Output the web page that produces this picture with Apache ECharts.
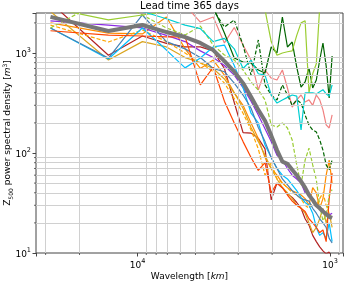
<!DOCTYPE html>
<html><head><meta charset="utf-8">
<script src="https://cdn.jsdelivr.net/npm/echarts@6/dist/echarts.min.js"></script>
<style>html,body{margin:0;padding:0;background:#fff}#c{width:346px;height:281px}</style>
</head><body><div id="c"></div>
<script>
// wavelength [km] of zonal wavenumbers 1..29
const wavelength = [28305,14153,9435,7076,5661,4718,4044,3538,3145,2831,2573,2359,2177,2022,1887,1769,1665,1573,1490,1415,1348,1287,1231,1179,1132,1089,1048,1011,976];

const meanSpectrum   = [2300,1660,1905,1620,1445,1260,1070,830,650,500,365,270,210,150,107,82,78,68,60,52,45,38,34,30,28,26,24.5,23,22.4];
const firebrickRun   = [3200,950,1480,1250,1150,1150,1050,700,320,160,158,140,110,34,50,45,39,36,32,28,22,19,15,13,11.5,10.5,9.8,10.2,8.5];
const darkorangeRun  = [2000,1580,1550,2290,1100,700,850,600,400,300,200,140,90,70,60,50,45,42,40,38,35,30,45,40,28,35,60,85,50];
const goldenrodRun   = [2600,850,1300,1150,900,800,700,550,400,280,180,130,95,70,55,45,40,35,30,28,25,20,16,18,22,28,20,25,18];
const orangeDashRun  = [1900,1290,1700,1300,1000,800,650,500,350,250,170,110,60,80,55,50,45,40,38,35,30,28,32,30,35,40,30,25,22];
const violetRun      = [2100,1900,1780,1500,1300,1050,900,750,600,450,330,240,175,130,95,85,70,60,55,50,40,38,35,30,28,27,25,24,25];
const skyblueRun     = [1780,870,1780,1070,710,890,1150,1200,750,450,250,200,120,90,70,60,55,48,42,36,32,30,25,18,15,16,14,20,13];
const steelblueRun   = [1780,890,2400,1300,1100,900,700,650,500,380,280,180,130,90,70,55,48,42,38,35,34,33,28,25,22,20,18,14,12.6];
const orangeredRun   = [1670,1510,1480,1450,1450,480,720,330,200,130,90,67,80,40,50,45,38,33,30,28,26,22,20,18,16,17,13,35,63];
const lightcoralRun  = [3400,3300,3200,3100,3000,2040,2290,1260,1800,1200,850,427,676,562,537,676,447,288,340,380,324,340,300,380,340,270,191,178,240];
const darkgreenRun   = [3800,3700,3600,3500,3400,3200,2900,1585,891,813,794,676,631,1148,1000,2291,1148,1288,724,457,513,708,447,537,851,1259,741,355,933];
const darkgreenDash  = [3800,3700,3600,3500,3300,3100,2700,1820,2138,1200,600,1350,480,380,339,480,380,300,339,316,240,190,170,162,135,107,76,68,85];
const yellowgreenRun = [2830,2140,2400,2600,2700,2800,2900,3000,3100,3000,2900,2800,2700,1300,950,1000,1030,1050,1500,2000,2100,400,620,780,2900,3300,3000,3300,3400];
const yellowgreenDash= [1780,3600,2400,1780,1514,1862,1200,955,851,676,513,427,339,191,182,200,178,135,76,48,85,112,76,54,30,21,24,38,43];
const turquoiseRun   = [3000,3000,2600,2200,1900,1750,1300,1400,1100,700,850,620,600,380,316,339,360,380,370,170,400,400,400,390,410,430,390,370,480];

const xGridValues = [30000,20000,9000,8000,7000,6000,5000,4000,3000,2000,900];
const yGridValues = [20,30,40,50,60,70,80,90,200,300,400,500,600,700,800,900,2000];

const FONT = 'DejaVu Sans';
function pairs(arr){ return wavelength.map((w,i)=>[w, arr[i]]); }
function powLabel(v){
  const e = Math.log10(v);
  if (Math.abs(e - Math.round(e)) > 1e-6) return '';
  return '{n|10}{s|' + Math.round(e) + '}';
}
const tickRich = { n:{fontSize:9, fontFamily:FONT, color:'#000', lineHeight:12, verticalAlign:'bottom'}, s:{fontSize:6.5, fontFamily:FONT, color:'#000', lineHeight:12, verticalAlign:'top'} };

function member(name, arr, color, dashed){
  return { name, type:'line', data:pairs(arr), symbol:'none', silent:true, z:3,
    lineStyle:{color, width:1.2, type: dashed ? [4,2] : 'solid'}, animation:false };
}

const series = [
  { name:'grid', type:'line', data:[], silent:true, z:1, animation:false,
    markLine:{ silent:true, symbol:'none', animation:false, label:{show:false},
      lineStyle:{color:'#d0d0d0', width:1, type:'solid'},
      data: xGridValues.map(v=>({xAxis:v})).concat(yGridValues.map(v=>({yAxis:v}))) } },
  member('firebrick', firebrickRun, '#b22222'),
  member('darkorange', darkorangeRun, '#ff8c00'),
  member('goldenrod', goldenrodRun, '#daa520'),
  member('orange dashed', orangeDashRun, '#ffa500', true),
  member('blueviolet', violetRun, '#8a2be2'),
  member('deepskyblue', skyblueRun, '#00bfff'),
  member('steelblue', steelblueRun, '#4682b4'),
  member('orangered', orangeredRun, '#ff4500'),
  member('lightcoral', lightcoralRun, '#f08080'),
  member('darkgreen', darkgreenRun, '#006400'),
  member('darkgreen dashed', darkgreenDash, '#006400', true),
  member('yellowgreen', yellowgreenRun, '#9acd32'),
  member('yellowgreen dashed', yellowgreenDash, '#9acd32', true),
  member('darkturquoise', turquoiseRun, '#00ced1'),
  { name:'mean', type:'line', data:pairs(meanSpectrum), symbol:'none', silent:true, z:5,
    lineStyle:{color:'#777777', width:4}, animation:false }
];

const chart = echarts.init(document.getElementById('c'), null, {renderer:'canvas'});
chart.setOption({
  animation:false,
  backgroundColor:'#fff',
  title:{ text:'Lead time 365 days', left:189.5, top:0, padding:0, textAlign:'center',
    textStyle:{fontSize:10, fontWeight:'normal', color:'#000', fontFamily:FONT, lineHeight:12} },
  grid:{ left:36, right:3, top:13, bottom:28, containLabel:false, outerBoundsMode:'none',
    show:true, borderColor:'#444', borderWidth:1, backgroundColor:'transparent' },
  xAxis:{ type:'log', logBase:10, min:857, max:33650, inverse:true,
    name:'{a|Wavelength [}{c|km}{a|]}', nameLocation:'middle', nameGap:19, nameMoveOverlap:false,
    nameTextStyle:{ rich:{ a:{fontSize:9, fontFamily:FONT, color:'#000'}, c:{fontSize:9, fontFamily:FONT, fontStyle:'italic', color:'#000'} } },
    axisLine:{show:false}, splitLine:{show:false},
    axisTick:{show:true, length:3.5, inside:false, lineStyle:{color:'#444', width:1}},
    axisLabel:{ margin:5, formatter:powLabel, rich:tickRich } },
  yAxis:{ type:'log', logBase:10, min:10, max:2512,
    name:'{a|Z}{b|500}{a| power spectral density [}{c|m}{d|3}{a|]}', nameLocation:'middle', nameGap:22, nameRotate:90, nameMoveOverlap:false,
    nameTextStyle:{ rich:{ a:{fontSize:9, fontFamily:FONT, color:'#000', lineHeight:12, verticalAlign:'middle'},
      b:{fontSize:6, fontFamily:FONT, color:'#000', lineHeight:12, verticalAlign:'bottom'},
      c:{fontSize:9, fontFamily:FONT, fontStyle:'italic', color:'#000', lineHeight:12, verticalAlign:'middle'},
      d:{fontSize:6, fontFamily:FONT, color:'#000', lineHeight:12, verticalAlign:'top'} } },
    axisLine:{show:false}, splitLine:{show:false},
    axisTick:{show:true, length:3.5, inside:false, lineStyle:{color:'#444', width:1}},
    axisLabel:{ margin:5, formatter:powLabel, rich:tickRich } },
  series
});

// minor tick marks at the minor grid values, positioned through the axes
const gridRect = chart.getModel().getComponent('grid').coordinateSystem.getRect();
const minorTicks = [];
xGridValues.forEach(v=>{
  const px = chart.convertToPixel({xAxisIndex:0}, v);
  minorTicks.push({type:'line', silent:true, z:10, shape:{x1:px, y1:gridRect.y+gridRect.height, x2:px, y2:gridRect.y+gridRect.height+2}, style:{stroke:'#444', lineWidth:0.8}});
});
yGridValues.forEach(v=>{
  const py = chart.convertToPixel({yAxisIndex:0}, v);
  minorTicks.push({type:'line', silent:true, z:10, shape:{x1:gridRect.x-2, y1:py, x2:gridRect.x, y2:py}, style:{stroke:'#444', lineWidth:0.8}});
});
chart.setOption({graphic: minorTicks});
</script></body></html>
